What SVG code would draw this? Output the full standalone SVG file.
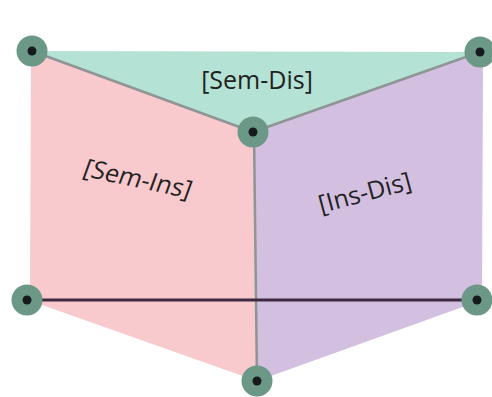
<svg xmlns="http://www.w3.org/2000/svg" width="492" height="397" viewBox="0 0 492 397">
  <style>
    .face-top { fill: #b4e2d4; }
    .face-left { fill: #f8c9cd; }
    .face-right { fill: #d3bfe0; }
    .edge { stroke: #8f9494; stroke-width: 2.5; fill: none; stroke-linecap: round; }
    .base { stroke: #3e2a40; stroke-width: 3; fill: none; }
    .node-ring { fill: #6c9888; }
    .node-dot { fill: #161a1a; }
    .label { font-family: "Open Sans", "Noto Sans", sans-serif; font-size: 25px; fill: #222222; text-anchor: middle; }
  </style>
  <defs>
    <g id="vertex">
      <circle class="node-ring" r="15.5"/>
      <circle class="node-dot" r="4.5"/>
    </g>
  </defs>

  <rect width="492" height="397" fill="#ffffff"/>

  <!-- faces -->
  <g id="faces">
    <polygon id="face-sem-dis" class="face-top" points="32,51 480,52 253,132"/>
    <polygon id="face-sem-ins" class="face-left" points="31,51 253,132 257,381 28,300 30,300"/>
    <polygon id="face-ins-dis" class="face-right" points="480,52 483,60 482,300 257,381 253,132"/>
  </g>

  <!-- connectors -->
  <g id="connectors">
    <line class="edge" x1="32" y1="51" x2="253" y2="132"/>
    <line class="edge" x1="480" y1="52" x2="253" y2="132"/>
    <line class="edge" x1="254" y1="132" x2="257" y2="381"/>
    <line class="base" x1="27" y1="300" x2="477" y2="300"/>
  </g>

  <!-- labels -->
  <text class="label" x="257" y="89">[Sem-Dis]</text>
  <text class="label" transform="translate(135,187) rotate(12) skewX(-8)">[Sem-Ins]</text>
  <text class="label" transform="translate(367,201) rotate(-15)">[Ins-Dis]</text>

  <!-- vertices -->
  <g id="node-top-left"><use href="#vertex" x="32" y="51"/></g>
  <g id="node-top-right"><use href="#vertex" x="480" y="52"/></g>
  <g id="node-center"><use href="#vertex" x="253" y="132"/></g>
  <g id="node-bottom-left"><use href="#vertex" x="27" y="300"/></g>
  <g id="node-bottom-right"><use href="#vertex" x="477" y="300"/></g>
  <g id="node-bottom"><use href="#vertex" x="257" y="381"/></g>
</svg>
